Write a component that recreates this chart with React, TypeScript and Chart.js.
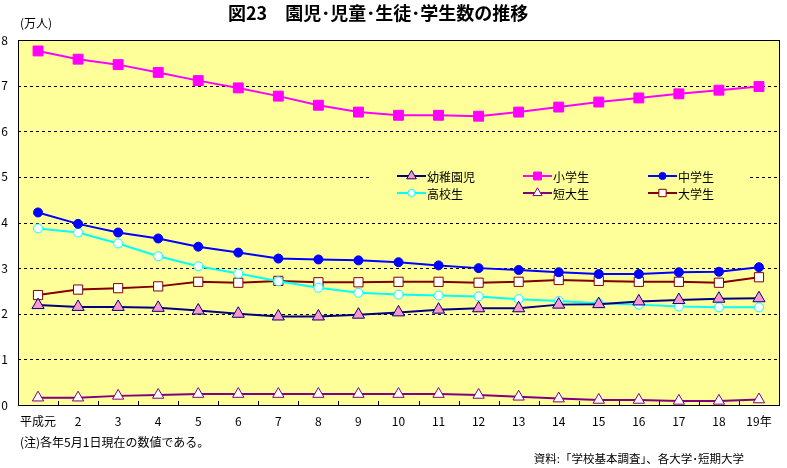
import React, { useEffect, useRef } from "react";
import { Chart, registerables } from "chart.js";

Chart.register(...registerables);

const years = ["平成元", "2", "3", "4", "5", "6", "7", "8", "9", "10", "11", "12", "13", "14", "15", "16", "17", "18", "19年"];
const kindergarten = [2.19, 2.15, 2.15, 2.13, 2.07, 2.0, 1.94, 1.94, 1.98, 2.03, 2.09, 2.12, 2.12, 2.2, 2.21, 2.27, 2.3, 2.33, 2.34];
const elementary = [7.76, 7.58, 7.46, 7.29, 7.11, 6.95, 6.77, 6.57, 6.42, 6.35, 6.35, 6.33, 6.42, 6.53, 6.64, 6.73, 6.82, 6.9, 6.98];
const juniorHigh = [4.22, 3.97, 3.78, 3.65, 3.47, 3.34, 3.21, 3.19, 3.17, 3.13, 3.06, 3.0, 2.96, 2.91, 2.87, 2.87, 2.91, 2.92, 3.02];
const highSchool = [3.87, 3.78, 3.54, 3.26, 3.04, 2.88, 2.71, 2.57, 2.46, 2.42, 2.4, 2.38, 2.32, 2.28, 2.23, 2.2, 2.16, 2.14, 2.14];
const juniorCollege = [0.16, 0.16, 0.2, 0.22, 0.24, 0.24, 0.24, 0.24, 0.24, 0.24, 0.24, 0.22, 0.18, 0.14, 0.11, 0.11, 0.09, 0.09, 0.12];
const university = [2.41, 2.53, 2.56, 2.6, 2.7, 2.68, 2.72, 2.69, 2.69, 2.7, 2.7, 2.68, 2.7, 2.74, 2.72, 2.7, 2.7, 2.68, 2.8];
const yTicks = [0, 1, 2, 3, 4, 5, 6, 7, 8];

const FONT = '"Noto Sans CJK JP", "Noto Sans", sans-serif';

type Series = { label: string; data: number[]; color: string; fill: string; style: string; radius: number };
const series: Series[] = [
  { label: "幼稚園児", data: kindergarten, color: "#000080", fill: "#FF99CC", style: "triangle", radius: 7 },
  { label: "小学生", data: elementary, color: "#FF00FF", fill: "#FF00FF", style: "rect", radius: 7 },
  { label: "中学生", data: juniorHigh, color: "#0000FF", fill: "#0000FF", style: "circle", radius: 4.5 },
  { label: "高校生", data: highSchool, color: "#00FFFF", fill: "#FFFFFF", style: "circle", radius: 4.5 },
  { label: "短大生", data: juniorCollege, color: "#800080", fill: "#FFFFFF", style: "triangle", radius: 6.5 },
  { label: "大学生", data: university, color: "#800000", fill: "#FFFFFF", style: "rect", radius: 6.5 },
];

function drawMarker(ctx: CanvasRenderingContext2D, s: Series, x: number, y: number) {
  ctx.save();
  ctx.fillStyle = s.fill;
  ctx.strokeStyle = s.color;
  ctx.lineWidth = 1;
  ctx.beginPath();
  const r = s.radius;
  if (s.style === "triangle") {
    ctx.moveTo(x, y - r);
    ctx.lineTo(x + r * 0.866, y + r * 0.5);
    ctx.lineTo(x - r * 0.866, y + r * 0.5);
    ctx.closePath();
  } else if (s.style === "rect") {
    const h = r * Math.SQRT1_2;
    ctx.rect(x - h, y - h, 2 * h, 2 * h);
  } else {
    ctx.arc(x, y, r, 0, Math.PI * 2);
  }
  ctx.fill();
  ctx.stroke();
  ctx.restore();
}

const decor = {
  id: "decor",
  beforeDraw(chart: any) {
    const { ctx, chartArea: a } = chart;
    ctx.save();
    ctx.fillStyle = "#FFFF99";
    ctx.fillRect(a.left, a.top, a.right - a.left, a.bottom - a.top);
    ctx.restore();
  },
  beforeDatasetsDraw(chart: any) {
    const { ctx, chartArea: a, scales } = chart;
    const y = scales.y;
    ctx.save();
    // dashed horizontal gridlines
    ctx.strokeStyle = "#000";
    ctx.lineWidth = 1;
    ctx.setLineDash([3, 3]);
    ctx.beginPath();
    yTicks.forEach((v) => {
      if (v === 0 || v === 8) return;
      const py = Math.round(y.getPixelForValue(v)) + 0.5;
      ctx.moveTo(a.left, py);
      ctx.lineTo(a.right, py);
    });
    ctx.stroke();
    ctx.setLineDash([]);
    // legend
    ctx.fillStyle = "#FFFF99";
    ctx.fillRect(372, 166, 378, 37);
    const cols = [397, 523, 648];
    const rows = [176, 193];
    series.forEach((s, i) => {
      const lx = cols[i % 3];
      const ly = rows[Math.floor(i / 3)];
      ctx.strokeStyle = s.color;
      ctx.lineWidth = 2;
      ctx.beginPath();
      ctx.moveTo(lx, ly);
      ctx.lineTo(lx + 29, ly);
      ctx.stroke();
      drawMarker(ctx, { ...s, radius: s.radius * 0.8 }, lx + 14.5, ly);
      ctx.fillStyle = "#000";
      ctx.font = `12px ${FONT}`;
      ctx.textBaseline = "middle";
      ctx.textAlign = "left";
      ctx.fillText(s.label, lx + 30, ly + 1);
    });
    ctx.restore();
  },
  afterDatasetsDraw(chart: any) {
    const { ctx, chartArea: a, scales } = chart;
    const x = scales.x;
    ctx.save();
    ctx.strokeStyle = "#000";
    ctx.lineWidth = 1;
    ctx.beginPath();
    for (let i = 1; i < years.length; i++) {
      const px = Math.round((x.getPixelForValue(i - 1) + x.getPixelForValue(i)) / 2) + 0.5;
      ctx.moveTo(px, a.bottom);
      ctx.lineTo(px, a.bottom - 4);
    }
    ctx.stroke();
    ctx.strokeRect(Math.round(a.left) + 0.5, Math.round(a.top) + 0.5, Math.round(a.right - a.left), Math.round(a.bottom - a.top));
    ctx.restore();
  },
};

export default function App() {
  const ref = useRef<HTMLCanvasElement>(null);
  useEffect(() => {
    document.body.style.margin = "0";
    const chart = new Chart(ref.current!, {
      type: "line",
      data: {
        labels: years,
        datasets: series.map((s) => ({
          label: s.label,
          data: s.data,
          borderColor: s.color,
          backgroundColor: s.fill,
          borderWidth: 2,
          pointStyle: s.style as any,
          pointRadius: s.radius,
          pointBorderWidth: 1,
          pointBorderColor: s.color,
          pointBackgroundColor: s.fill,
          tension: 0,
        })),
      },
      options: {
        responsive: false,
        animation: false,
        layout: { padding: { top: 40, right: 4, left: 0, bottom: 0 } },
        plugins: { legend: { display: false }, tooltip: { enabled: false }, title: { display: false } },
        scales: {
          x: {
            offset: true,
            grid: { display: false, drawTicks: false },
            border: { display: false },
            ticks: { color: "#000", font: { family: FONT, size: 12 }, padding: 9, maxRotation: 0, autoSkip: false },
            afterFit: (s: any) => { s.height = 63; },
          },
          y: {
            min: 0,
            max: 8,
            afterBuildTicks: (s: any) => { s.ticks = yTicks.map((v) => ({ value: v })); },
            grid: { display: false, drawTicks: false },
            border: { display: false },
            ticks: { color: "#000", font: { family: FONT, size: 12 }, padding: 10 },
            afterFit: (s: any) => { s.width = 18; },
          },
        },
      },
      plugins: [decor],
    });
    return () => chart.destroy();
  }, []);

  const text: React.CSSProperties = { position: "absolute", whiteSpace: "nowrap", fontFamily: FONT, color: "#000", lineHeight: 1 };
  return (
    <div style={{ position: "absolute", left: 0, top: 0, width: 787, height: 468, background: "#fff" }}>
      <canvas ref={ref} width={787} height={468} style={{ position: "absolute", left: 0, top: 0 }} />
      <div style={{ ...text, left: 228, top: 3, fontSize: 18, fontWeight: 700 }}>図23　園児･児童･生徒･学生数の推移</div>
      <div style={{ ...text, left: 20, top: 17, fontSize: 12 }}>(万人)</div>
      <div style={{ ...text, left: 20, top: 436, fontSize: 12 }}>(注)各年5月1日現在の数値である。</div>
      <div style={{ ...text, right: 43, top: 453, fontSize: 11.5 }}>資料:「学校基本調査」、各大学･短期大学</div>
    </div>
  );
}
